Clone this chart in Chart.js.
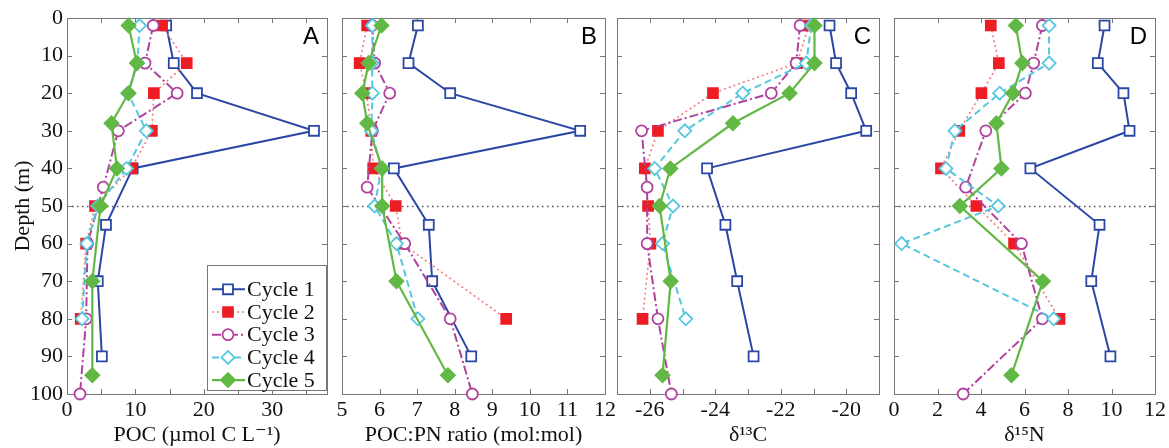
<!DOCTYPE html>
<html>
<head>
<meta charset="utf-8">
<title>POC profiles</title>
<script src="https://cdn.jsdelivr.net/npm/chart.js@4.4.0/dist/chart.umd.min.js"></script>
<style>
  body { margin: 0; background: #fff; }
  #wrap { position: relative; width: 1169px; height: 448px; background: #fff; }
  #wrap canvas { position: absolute; left: 0; top: 0; }
</style>
</head>
<body>
<div id="wrap">
  <canvas id="panel-a" width="1169" height="448"></canvas>
  <canvas id="panel-b" width="1169" height="448"></canvas>
  <canvas id="panel-c" width="1169" height="448"></canvas>
  <canvas id="panel-d" width="1169" height="448"></canvas>
</div>
<script>
// sampling depths (m) for each cruise cycle
const depthCycle1 = [2, 12, 20, 30, 40, 55, 70, 90];
const depthCycle2 = [2, 12, 20, 30, 40, 50, 60, 80];
const depthCycle3 = [2, 12, 20, 30, 45, 60, 80, 100];
const depthCycle4 = [2, 12, 20, 30, 40, 50, 60, 80];
const depthCycle5 = [2, 12, 20, 28, 40, 50, 70, 95];

// A - POC (umol C / L)
const pocCycle1 = [14.5, 15.6, 19.0, 36.1, 9.6, 5.7, 4.5, 5.1];
const pocCycle2 = [13.9, 17.5, 12.7, 12.4, 9.4, 4.1, 2.8, 2.0];
const pocCycle3 = [12.6, 11.4, 16.1, 7.5, 5.3, 3.0, 2.8, 1.9];
const pocCycle4 = [10.6, 10.3, 8.9, 11.6, 8.7, 4.5, 2.9, 2.2];
const pocCycle5 = [9.0, 10.2, 9.0, 6.5, 7.3, 4.9, 3.7, 3.7];

// B - POC:PN ratio (mol:mol)
const ratioCycle1 = [7.02, 6.77, 7.88, 11.34, 6.38, 7.31, 7.40, 8.44];
const ratioCycle2 = [5.67, 5.47, 5.65, 5.78, 5.83, 6.43, 6.60, 9.37];
const ratioCycle3 = [5.80, 5.87, 6.27, 5.81, 5.67, 6.67, 7.88, 8.47];
const ratioCycle4 = [5.81, 5.80, 5.81, 5.78, 6.05, 5.87, 6.45, 7.02];
const ratioCycle5 = [6.05, 5.71, 5.54, 5.67, 6.07, 6.07, 6.45, 7.82];

// C - d13C
const d13cCycle1 = [-20.51, -20.31, -19.85, -19.39, -24.25, -23.69, -23.33, -22.83];
const d13cCycle2 = [-21.14, -21.50, -24.07, -25.75, -26.15, -26.05, -25.98, -26.22];
const d13cCycle3 = [-21.41, -21.53, -22.29, -26.25, -26.08, -26.08, -25.75, -25.34];
const d13cCycle4 = [-21.07, -21.22, -23.16, -24.93, -25.85, -25.29, -25.61, -24.90];
const d13cCycle5 = [-20.97, -20.97, -21.73, -23.46, -25.37, -25.70, -25.36, -25.61];

// D - d15N
const d15nCycle1 = [9.68, 9.37, 10.55, 10.83, 6.27, 9.45, 9.07, 9.95];
const d15nCycle2 = [4.45, 4.82, 4.02, 3.00, 2.16, 3.79, 5.52, 7.61];
const d15nCycle3 = [6.82, 6.42, 6.04, 4.22, 3.30, 5.86, 6.82, 3.18];
const d15nCycle4 = [7.13, 7.13, 4.86, 2.80, 2.39, 4.79, 0.35, 7.34];
const d15nCycle5 = [5.60, 5.90, 5.47, 4.71, 4.94, 3.03, 6.85, 5.40];

const cycleLabels = ['Cycle 1', 'Cycle 2', 'Cycle 3', 'Cycle 4', 'Cycle 5'];
const cycleDepths = [depthCycle1, depthCycle2, depthCycle3, depthCycle4, depthCycle5];
const mixedLayerDepth = 50; // dotted reference line

const SERIF = "'Liberation Serif', 'Times New Roman', 'DejaVu Serif', serif";
Chart.defaults.font.family = SERIF;
Chart.defaults.font.size = 22;
Chart.defaults.color = '#111';

// line + marker look for each cycle
const cycleStyles = [
  { color: '#2b47a6', line: '#2b47a6', dash: [],           width: 2,   shape: 'rect',    r: 7,   fill: '#fff' },
  { color: '#ee1c24', line: '#f27c7c', dash: [2, 3],       width: 1.6, shape: 'rect',    r: 7,   fill: '#ee1c24' },
  { color: '#b0429e', line: '#b0429e', dash: [9, 3, 2, 3], width: 2,   shape: 'circle',  r: 5.5, fill: '#fff' },
  { color: '#55c8dd', line: '#55c8dd', dash: [7, 4],       width: 2,   shape: 'rectRot', r: 6.5, fill: '#fff' },
  { color: '#62b844', line: '#62b844', dash: [],           width: 2.2, shape: 'rectRot', r: 7,   fill: '#62b844' }
];

function makeDatasets(seriesList) {
  return seriesList.map(function (vals, i) {
    const st = cycleStyles[i];
    return {
      label: cycleLabels[i],
      data: vals.map(function (v, k) { return { x: v, y: cycleDepths[i][k] }; }),
      showLine: true,
      borderColor: st.line,
      borderDash: st.dash,
      borderWidth: st.width,
      pointStyle: st.shape,
      pointRadius: st.r,
      pointHoverRadius: st.r,
      pointBorderColor: st.color,
      pointBackgroundColor: st.fill,
      pointBorderWidth: 1.8,
      order: 5 - i,   // later cycles drawn on top
      clip: false
    };
  });
}

// marker shapes used in the legend (same geometry chart.js uses)
function drawMarker(ctx, st, x, y) {
  ctx.beginPath();
  if (st.shape === 'circle') {
    ctx.arc(x, y, st.r, 0, Math.PI * 2);
  } else if (st.shape === 'rect') {
    const s = Math.SQRT1_2 * st.r;
    ctx.rect(x - s, y - s, 2 * s, 2 * s);
  } else {
    ctx.moveTo(x, y - st.r);
    ctx.lineTo(x + st.r, y);
    ctx.lineTo(x, y + st.r);
    ctx.lineTo(x - st.r, y);
    ctx.closePath();
  }
  ctx.fillStyle = st.fill;
  ctx.fill();
  ctx.lineWidth = 1.8;
  ctx.strokeStyle = st.color;
  ctx.setLineDash([]);
  ctx.stroke();
}

// box around the plot, inward tick marks, dotted 50 m line and the panel letter
const panelFrame = {
  id: 'panelFrame',
  beforeDatasetsDraw(chart, args, opts) {
    const { ctx, chartArea: a, scales: { x, y } } = chart;
    ctx.save();
    // dotted line
    const yy = Math.round(y.getPixelForValue(mixedLayerDepth)) + 0.5;
    ctx.strokeStyle = '#555';
    ctx.lineWidth = 1.4;
    ctx.setLineDash([1.5, 3.5]);
    ctx.beginPath();
    ctx.moveTo(a.left, yy);
    ctx.lineTo(a.right, yy);
    ctx.stroke();
    ctx.setLineDash([]);

    ctx.strokeStyle = '#777';
    ctx.lineWidth = 1;
    ctx.strokeRect(Math.round(a.left) + 0.5, Math.round(a.top) + 0.5,
                   Math.round(a.width), Math.round(a.height));
    const tl = 5;
    ctx.beginPath();
    x.ticks.forEach(function (t) {
      const px = Math.round(x.getPixelForValue(t.value)) + 0.5;
      ctx.moveTo(px, a.top); ctx.lineTo(px, a.top + tl);
      ctx.moveTo(px, a.bottom); ctx.lineTo(px, a.bottom - tl);
    });
    y.ticks.forEach(function (t) {
      const py = Math.round(y.getPixelForValue(t.value)) + 0.5;
      ctx.moveTo(a.left, py); ctx.lineTo(a.left + tl, py);
      ctx.moveTo(a.right, py); ctx.lineTo(a.right - tl, py);
    });
    ctx.stroke();

    ctx.fillStyle = '#000';
    ctx.font = "24px 'Liberation Sans', Arial, sans-serif";
    ctx.textAlign = 'right';
    ctx.textBaseline = 'middle';
    ctx.fillText(opts.letter, a.right - 8, a.top + 19);
    ctx.restore();
  }
};

// legend box in the lower right of panel A
const cycleLegend = {
  id: 'cycleLegend',
  afterDatasetsDraw(chart, args, opts) {
    if (!opts.show) return;
    const { ctx, chartArea: a } = chart;
    const w = 119, h = 125;
    const left = a.right - 1 - w, top = a.bottom - 4 - h;
    ctx.save();
    ctx.fillStyle = '#fff';
    ctx.fillRect(left, top, w, h);
    ctx.strokeStyle = '#777';
    ctx.lineWidth = 1;
    ctx.strokeRect(Math.round(left) + 0.5, Math.round(top) + 0.5, w, h);
    cycleLabels.forEach(function (lab, i) {
      const st = cycleStyles[i];
      const cy = top + 24.3 + i * 22.7;
      ctx.strokeStyle = st.line;
      ctx.lineWidth = st.width;
      ctx.setLineDash(st.dash);
      ctx.beginPath();
      ctx.moveTo(left + 5, cy);
      ctx.lineTo(left + 38, cy);
      ctx.stroke();
      drawMarker(ctx, st, left + 21, cy);
      ctx.fillStyle = '#111';
      ctx.font = '22px ' + SERIF;
      ctx.textAlign = 'left';
      ctx.textBaseline = 'middle';
      ctx.fillText(lab, left + 40, cy + 1);
    });
    ctx.restore();
  }
};

function makePanel(canvasId, cfg) {
  // only panel A carries the depth labels and the legend
  const isFirst = cfg.letter === 'A';
  new Chart(document.getElementById(canvasId), {
    type: 'scatter',
    data: { datasets: makeDatasets(cfg.series) },
    options: {
      responsive: false,
      animation: false,
      events: [],
      layout: {
        autoPadding: false,
        padding: { left: cfg.left, right: 1169 - cfg.right, top: 18, bottom: 0 }
      },
      scales: {
        x: {
          type: 'linear',
          min: cfg.min,
          max: cfg.max,
          grid: { display: false, drawTicks: false },
          border: { display: false },
          ticks: {
            stepSize: cfg.step,
            includeBounds: false,
            autoSkip: false,
            maxRotation: 0,
            padding: 3,
            callback: function (v) {
              return (Math.abs(v % cfg.labelEvery) < 1e-9) ? String(v) : '';
            }
          },
          title: { display: true, text: cfg.title, padding: { top: 0, bottom: 0 } },
          afterFit: function (s) { s.height = 54; }
        },
        y: {
          type: 'linear',
          reverse: true,
          min: 0,
          max: 100,
          grid: { display: false, drawTicks: false },
          border: { display: false },
          ticks: { stepSize: 10, display: isFirst, padding: 4 },
          title: { display: isFirst, text: 'Depth (m)', padding: { top: 10, bottom: 0 } },
          afterFit: function (s) { s.width = isFirst ? 67 : 0; }
        }
      },
      plugins: {
        legend: { display: false },
        tooltip: { enabled: false },
        panelFrame: { letter: cfg.letter },
        cycleLegend: { show: isFirst }
      }
    },
    plugins: [panelFrame, cycleLegend]
  });
}

makePanel('panel-a', {
  letter: 'A', left: 0, right: 327, min: 0, max: 38, step: 5, labelEvery: 10,
  title: 'POC (\u00b5mol C L\u207b\u00b9)',
  series: [pocCycle1, pocCycle2, pocCycle3, pocCycle4, pocCycle5]
});
makePanel('panel-b', {
  letter: 'B', left: 342, right: 605, min: 5, max: 12, step: 1, labelEvery: 1,
  title: 'POC:PN ratio (mol:mol)',
  series: [ratioCycle1, ratioCycle2, ratioCycle3, ratioCycle4, ratioCycle5]
});
makePanel('panel-c', {
  letter: 'C', left: 617, right: 879, min: -27, max: -19, step: 1, labelEvery: 2,
  title: '\u03b4\u00b9\u00b3C',
  series: [d13cCycle1, d13cCycle2, d13cCycle3, d13cCycle4, d13cCycle5]
});
makePanel('panel-d', {
  letter: 'D', left: 894, right: 1156, min: 0, max: 12, step: 2, labelEvery: 2,
  title: '\u03b4\u00b9\u2075N',
  series: [d15nCycle1, d15nCycle2, d15nCycle3, d15nCycle4, d15nCycle5]
});
</script>
</body>
</html>
